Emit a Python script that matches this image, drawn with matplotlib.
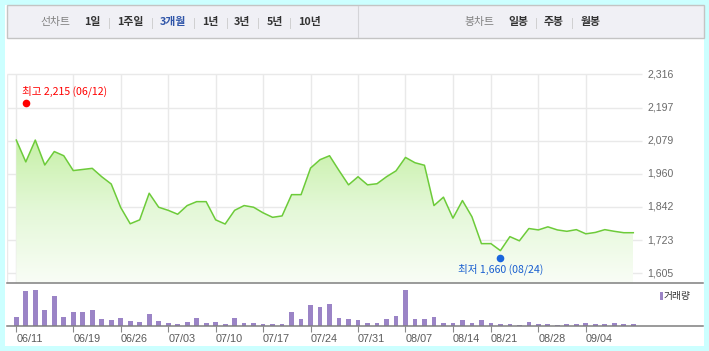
import numpy as np
import matplotlib
matplotlib.use("Agg")
import matplotlib.pyplot as plt
from matplotlib.patches import Rectangle
from matplotlib.lines import Line2D
from matplotlib.colors import LinearSegmentedColormap

# daily closes, 06/11 .. 09/11 (66 trading days)
close = [2081, 2003, 2081, 1992, 2040, 2025, 1972, 1976, 1980, 1950,
         1924, 1840, 1782, 1796, 1891, 1841, 1830, 1816, 1847, 1861,
         1861, 1796, 1781, 1830, 1847, 1841, 1821, 1805, 1810, 1886,
         1886, 1981, 2011, 2025, 1972, 1921, 1950, 1921, 1925, 1950,
         1971, 2019, 2000, 1991, 1847, 1877, 1802, 1865, 1807, 1711,
         1711, 1686, 1736, 1721, 1765, 1760, 1771, 1760, 1755, 1761,
         1746, 1751, 1761, 1755, 1750, 1750]
volume = [28, 106, 109, 49, 91, 28, 43, 43, 49, 22,
          19, 25, 16, 13, 37, 16, 10, 7, 13, 25,
          10, 13, 7, 25, 10, 10, 7, 7, 7, 43,
          22, 64, 58, 67, 25, 22, 19, 10, 10, 22,
          31, 109, 22, 22, 28, 10, 10, 19, 10, 19,
          10, 7, 7, 4, 13, 7, 7, 4, 7, 7,
          10, 7, 7, 10, 7, 7]
tick_idx = [0, 6, 11, 16, 21, 26, 31, 36, 41, 46, 50, 55, 60]
tick_labels = ["06/11", "06/19", "06/26", "07/03", "07/10", "07/17", "07/24",
               "07/31", "08/07", "08/14", "08/21", "08/28", "09/04"]
price_ticks = [1605, 1723, 1842, 1960, 2079, 2197, 2316]
hi_idx, hi_val, hi_text = 1, 2215, "최고 2,215 (06/12)"
lo_idx, lo_val, lo_text = 51, 1660, "최저 1,660 (08/24)"
period_items = ["1일", "1주일", "3개월", "1년", "3년", "5년", "10년"]
candle_items = ["일봉", "주봉", "월봉"]

W, H = 709, 351
KR = ["Noto Sans CJK KR", "DejaVu Sans"]
NUM = ["Liberation Sans", "DejaVu Sans"]


def fx(x):
    return x / W


def fy(y):
    return 1 - y / H


fig = plt.figure(figsize=(W / 100, H / 100), dpi=100, facecolor="#ccffff")
fig.patches.append(Rectangle((fx(5), fy(346)), fx(699), 341 / H,
                             transform=fig.transFigure, facecolor="white",
                             edgecolor="none", zorder=-5))

# header bar
fig.patches.append(Rectangle((fx(6.5), fy(37.5)), fx(697), 32 / H,
                             transform=fig.transFigure, facecolor="#f0f0f5",
                             edgecolor="#c4c4c4", lw=1, zorder=1))
fig.lines.append(Line2D([fx(357.5)] * 2, [fy(6), fy(37)],
                        transform=fig.transFigure, color="#d4d4d8", lw=0.8, zorder=2))
fig.text(fx(55.5), fy(22.5), "선차트", family=KR, fontsize=7.8, color="#808080",
         ha="center", va="center")
for txt, cx in zip(period_items, [92.5, 130.5, 172.5, 210.5, 242, 274.5, 309.5]):
    fig.text(fx(cx), fy(22.5), txt, family=KR, fontsize=7.8, weight="bold",
             color="#2f55a8" if txt == "3개월" else "#333333",
             ha="center", va="center")
for sx in [109, 151.7, 194, 226.7, 258.3, 290, 536.3, 572]:
    fig.lines.append(Line2D([fx(sx)] * 2, [fy(17.5), fy(28)],
                            transform=fig.transFigure, color="#d0d0d0", lw=0.7, zorder=2))
fig.text(fx(479), fy(22.5), "봉차트", family=KR, fontsize=7.8, color="#808080",
         ha="center", va="center")
for txt, cx in zip(candle_items, [518.3, 553.3, 590.7]):
    fig.text(fx(cx), fy(22.5), txt, family=KR, fontsize=7.8, weight="bold",
             color="#333333", ha="center", va="center")

# main price panel
step = (633.3 - 16.3) / 65
xl, xr = (7 - 16.3) / step, (703 - 16.3) / step
ax = fig.add_axes([fx(7), fy(283.3), fx(696), (283.3 - 45) / H])
ax.set_facecolor("none")
ybot = 1605 - 10 * 118.5 / 33.17
ytop = 1605 + 228.3 * 118.5 / 33.17
ax.axis("off")

x = np.arange(len(close))
grid_end = (642 - 16.3) / step
ax.hlines(price_ticks, xl, grid_end, color="#e9e9e9", lw=1, zorder=1)
ax.vlines(tick_idx, ybot, price_ticks[-1], color="#e9e9e9", lw=1, zorder=1)
ax.vlines([xl + 0.02], ybot, price_ticks[-1], color="#e9e9e9", lw=1, zorder=1)
for v in price_ticks:
    ax.text((647.5 - 16.3) / step, v, f"{v:,}", family=NUM, fontsize=7.6,
            color="#6a6a6a", ha="left", va="center")

poly = ax.fill_between(x, close, ybot, color="none", lw=0)
cmap = LinearSegmentedColormap.from_list("g", ["#f9fdf6", "#e4f8d8", "#c6f0a6"])
grad = np.linspace(0, 1, 256).reshape(-1, 1)
img = ax.imshow(grad, cmap=cmap, aspect="auto", origin="lower",
                extent=[x[0], x[-1], ybot, 2090], zorder=2)
img.set_clip_path(poly.get_paths()[0], transform=ax.transData)
ax.set_xlim(xl, xr)
ax.set_ylim(ybot, ytop)
ax.plot(x, close, color="#6dcb3a", lw=1.1, zorder=3)

ax.plot(hi_idx, hi_val, "o", color="#ff0000", ms=5.5, mec="none", zorder=4)
ax.annotate(hi_text, (hi_idx, hi_val), xytext=(-2.5, 8), textcoords="offset points",
            family=KR, fontsize=7.6, color="#ff0000", ha="left", va="center")
ax.plot(lo_idx, lo_val, "o", color="#1a66dd", ms=5.5, mec="none", zorder=4)
ax.annotate(lo_text, (lo_idx, lo_val), xytext=(0, -8.5), textcoords="offset points",
            family=KR, fontsize=7.6, color="#1a5fd0", ha="center", va="center")

# volume panel
axv = fig.add_axes([fx(7), fy(326.3), fx(696), 43 / H])
axv.set_facecolor("none")
axv.set_xlim(xl, xr)
axv.set_ylim(0, 129)
for s in axv.spines.values():
    s.set_visible(False)
axv.bar(x, volume, width=0.5, color="#9b84c6", zorder=2)
axv.set_yticks([])
axv.set_xticks(tick_idx, tick_labels)
axv.tick_params(axis="x", length=4, width=0.8, color="#8a8a8a", pad=1.5,
                labelsize=7.8, labelcolor="#5a5a5a")
for lab in axv.get_xticklabels():
    lab.set_family(NUM)
    lab.set_horizontalalignment("left")
fig.patches.append(Rectangle((fx(660), fy(300)), fx(2.5), 8 / H,
                             transform=fig.transFigure, facecolor="#9b84c6",
                             edgecolor="none", zorder=2))
fig.text(fx(664), fy(295.8), "거래량", family=KR, fontsize=7, color="#333333",
         ha="left", va="center")

for yy in [283.3, 326.3]:
    fig.lines.append(Line2D([fx(7), fx(703)], [fy(yy)] * 2,
                            transform=fig.transFigure, color="#7f7f7f", lw=1.1, zorder=3))

fig.savefig("out.png", dpi=100, facecolor=fig.get_facecolor())
